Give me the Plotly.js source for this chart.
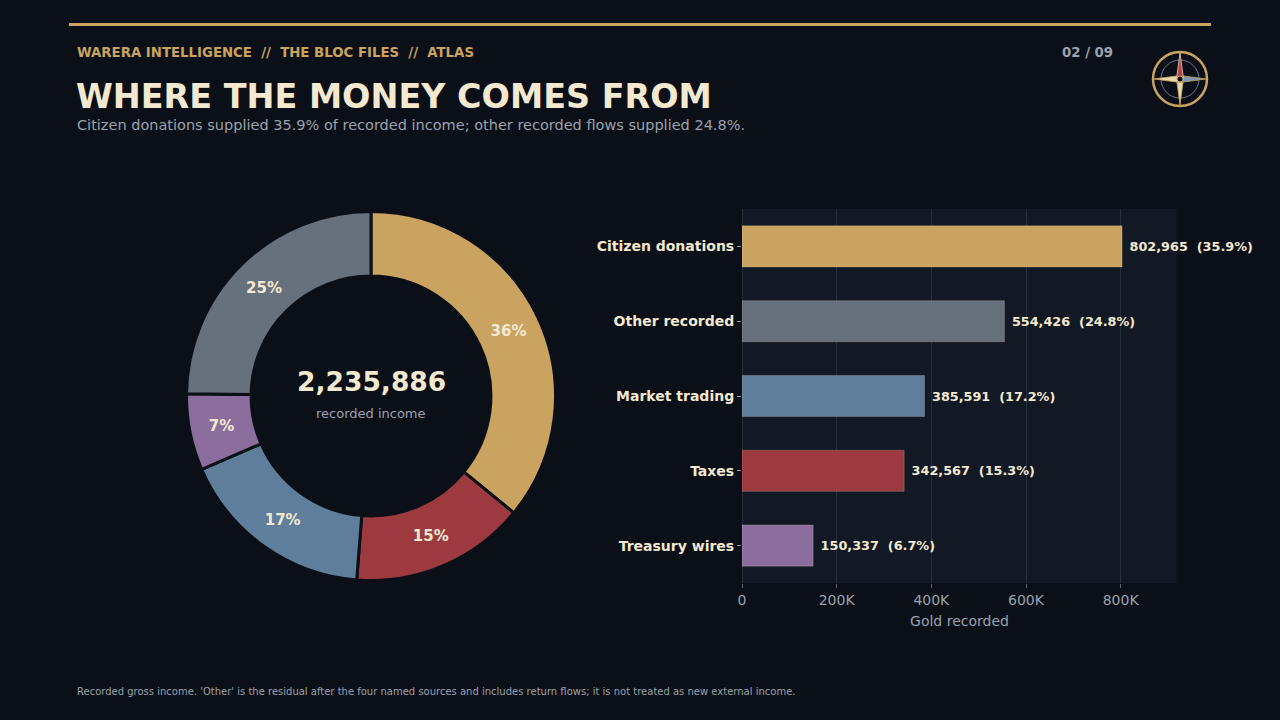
<!DOCTYPE html>
<html>
<head>
<meta charset="utf-8">
<script src="https://cdn.plot.ly/plotly-3.0.1.min.js"></script>
<style>
html,body{margin:0;padding:0;background:#0b0f17;}
#chart{width:1280px;height:720px;}
</style>
</head>
<body>
<div id="chart"></div>
<script>
// ---- data ----
const categories = ['Citizen donations', 'Other recorded', 'Market trading', 'Taxes', 'Treasury wires'];
const values = [802965, 554426, 385591, 342567, 150337];
const colors = ['#c9a35f', '#67717d', '#5e7e9b', '#9d3a40', '#8c6e9e'];
const pieOrder = ['Citizen donations', 'Taxes', 'Market trading', 'Treasury wires', 'Other recorded'];
const xTickVals = [0, 200000, 400000, 600000, 800000];
const xTickText = ['0', '200K', '400K', '600K', '800K'];

const total = values.reduce((a, b) => a + b, 0);
const barText = values.map(v => '\u00a0' + v.toLocaleString('en-US') + '\u00a0\u00a0(' + (v / total * 100).toFixed(1) + '%)');
const pieValues = pieOrder.map(c => values[categories.indexOf(c)]);
const pieColors = pieOrder.map(c => colors[categories.indexOf(c)]);

const W = 1280, H = 720;
const px = x => x / W, py = y => 1 - y / H;
const CREAM = '#f3e8d0', GREY = '#9aa2ae', GOLD = '#c9a35f', BG = '#0b0f17';
const FONT = 'DejaVu Sans, Verdana, sans-serif';

const pie = {
  type: 'pie',
  labels: pieOrder,
  values: pieValues,
  sort: false,
  direction: 'clockwise',
  rotation: 0,
  hole: 0.65,
  marker: {colors: pieColors, line: {color: BG, width: 3}},
  texttemplate: '%{percent:.0%}',
  textposition: 'inside',
  insidetextorientation: 'horizontal',
  textfont: {family: FONT, size: 15, color: CREAM, weight: 700},
  domain: {x: [px(186.5), px(555.5)], y: [py(580.5), py(211.5)]},
  showlegend: false,
  hoverinfo: 'none'
};

const bar = {
  type: 'bar',
  orientation: 'h',
  y: categories,
  x: values,
  text: barText,
  textposition: 'outside',
  cliponaxis: false,
  textfont: {family: FONT, size: 12.8, color: CREAM, weight: 700},
  marker: {color: colors, line: {color: 'rgba(240,225,195,0.22)', width: 1}},
  width: 0.55,
  xaxis: 'x', yaxis: 'y',
  showlegend: false,
  hoverinfo: 'none'
};

// compass path helper (pixels -> paper)
function poly(pts) {
  return 'M ' + pts.map(p => px(p[0]).toFixed(5) + ',' + py(p[1]).toFixed(5)).join(' L ') + ' Z';
}
const cx = 1180, cy = 79;
function circ(r, style) {
  return Object.assign({type: 'circle', xref: 'paper', yref: 'paper',
    x0: px(cx - r), x1: px(cx + r), y0: py(cy + r), y1: py(cy - r)}, style);
}
const L = 26, w = 3.5;
const shapes = [
  {type: 'line', xref: 'paper', yref: 'paper', x0: px(69), x1: px(1211), y0: py(24.5), y1: py(24.5),
   line: {color: GOLD, width: 3}},
  circ(27, {line: {color: GOLD, width: 2.5}}),
  circ(19, {line: {color: '#6b7686', width: 1}}),
  {type: 'path', xref: 'paper', yref: 'paper', path: poly([[cx - w, cy], [cx, cy + L], [cx + w, cy]]),
   fillcolor: '#e8d8b0', line: {color: GOLD, width: 0.8}},
  {type: 'path', xref: 'paper', yref: 'paper', path: poly([[cx, cy - w], [cx - L, cy], [cx, cy + w]]),
   fillcolor: '#e8d8b0', line: {color: GOLD, width: 0.8}},
  {type: 'path', xref: 'paper', yref: 'paper', path: poly([[cx, cy - w], [cx + L, cy], [cx, cy + w]]),
   fillcolor: '#7d97b4', line: {color: GOLD, width: 0.8}},
  {type: 'path', xref: 'paper', yref: 'paper', path: poly([[cx - w, cy], [cx, cy - L], [cx + w, cy]]),
   fillcolor: '#b8434a', line: {color: '#e8d8b0', width: 0.8}},
  circ(3, {fillcolor: BG, line: {color: GOLD, width: 1}})
];

const ann = (x, y, text, size, color, weight, anchor) => ({
  xref: 'paper', yref: 'paper', x: px(x), y: py(y), text: text, showarrow: false,
  xanchor: anchor || 'left', yanchor: 'middle',
  font: {family: FONT, size: size, color: color, weight: weight || 400}
});

const annotations = [
  ann(75, 53, 'WARERA INTELLIGENCE\u00a0 //\u00a0 THE BLOC FILES\u00a0 //\u00a0 ATLAS', 13.3, GOLD, 700),
  ann(1115, 53, '02 / 09', 13.3, GREY, 700, 'right'),
  ann(74, 97, 'WHERE THE MONEY COMES FROM', 33.4, CREAM, 700),
  ann(75, 125.5, 'Citizen donations supplied 35.9% of recorded income; other recorded flows supplied 24.8%.', 14.5, GREY, 400),
  ann(75, 691, "Recorded gross income. 'Other' is the residual after the four named sources and includes return flows; it is not treated as new external income.", 10, GREY, 400),
  ann(371, 381, total.toLocaleString('en-US'), 26.5, CREAM, 700, 'center'),
  ann(371, 414, 'recorded income', 13, GREY, 400, 'center')
];

const layout = {
  width: W, height: H,
  margin: {l: 0, r: 0, t: 0, b: 0},
  paper_bgcolor: BG,
  plot_bgcolor: '#121924',
  font: {family: FONT, color: CREAM},
  xaxis: {
    domain: [px(742), px(1177)],
    anchor: 'y',
    range: [0, 919000],
    tickvals: xTickVals, ticktext: xTickText,
    tickfont: {family: FONT, size: 14, color: GREY},
    ticks: 'outside', ticklen: 4, tickcolor: '#5a6472',
    showgrid: true, gridcolor: '#263140', gridwidth: 1,
    zeroline: true, zerolinecolor: '#263140', zerolinewidth: 1,
    showline: false,
    title: {text: 'Gold recorded', font: {family: FONT, size: 14, color: GREY}, standoff: 9},
    automargin: false, fixedrange: true
  },
  yaxis: {
    domain: [py(583), py(209)],
    anchor: 'x',
    autorange: 'reversed',
    tickfont: {family: FONT, size: 14, color: CREAM, weight: 700},
    ticks: 'outside', ticklen: 4, tickcolor: '#9aa2ae',
    showgrid: false, zeroline: false, showline: false,
    automargin: false, fixedrange: true
  },
  shapes: shapes,
  annotations: annotations,
  hovermode: false
};

Plotly.newPlot('chart', [pie, bar], layout, {displayModeBar: false, staticPlot: true});
</script>
</body>
</html>
